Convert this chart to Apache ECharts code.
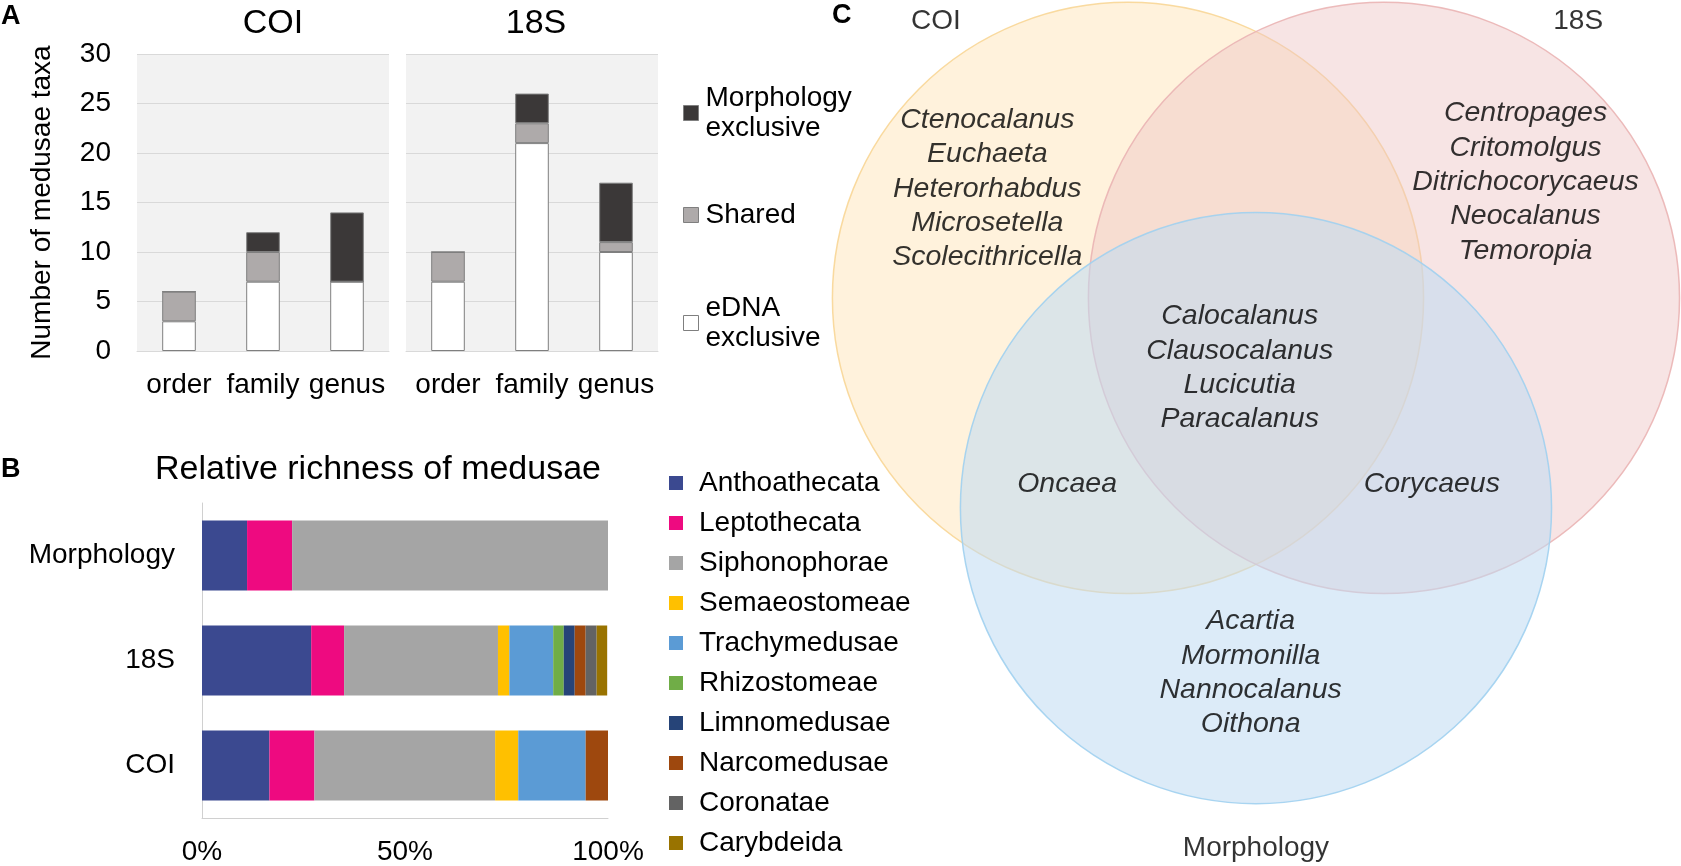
<!DOCTYPE html>
<html><head><meta charset="utf-8">
<script src="https://cdn.jsdelivr.net/npm/echarts@6/dist/echarts.min.js"></script>
<style>html,body{margin:0;padding:0;background:#fff}#c{width:1681px;height:866px}</style>
</head><body><div id="c"></div>
<script>
// ---------- Panel A data ----------
const levels = ['order', 'family', 'genus'];
const coiEdna = [3, 7, 7];
const coiShared = [3, 3, 0];
const coiMorph = [0, 2, 7];
const s18Edna = [7, 21, 10];
const s18Shared = [3, 2, 1];
const s18Morph = [0, 3, 6];
const countTickStep = 5;
const countMax = 30;
const groupNames = ['Morphology exclusive', 'Shared', 'eDNA exclusive'];

// ---------- Panel B data ----------
const methods = ['COI', '18S', 'Morphology'];
const orders = ['Anthoathecata', 'Leptothecata', 'Siphonophorae', 'Semaeostomeae', 'Trachymedusae',
  'Rhizostomeae', 'Limnomedusae', 'Narcomedusae', 'Coronatae', 'Carybdeida'];
const shareCOI = [16.6, 11.1, 44.5, 5.7, 16.6, 0, 0, 5.5, 0, 0];
const share18S = [26.9, 8.1, 37.9, 2.8, 10.8, 2.6, 2.7, 2.7, 2.7, 2.6];
const shareMorph = [11.1, 11.1, 77.8, 0, 0, 0, 0, 0, 0, 0];

// ---------- Panel C data ----------
const vennSetNames = ['COI', '18S', 'Morphology'];
const onlyCOI = ['Ctenocalanus', 'Euchaeta', 'Heterorhabdus', 'Microsetella', 'Scolecithricella'];
const only18S = ['Centropages', 'Critomolgus', 'Ditrichocorycaeus', 'Neocalanus', 'Temoropia'];
const allThree = ['Calocalanus', 'Clausocalanus', 'Lucicutia', 'Paracalanus'];
const coiMorphOnly = ['Oncaea'];
const s18MorphOnly = ['Corycaeus'];
const onlyMorph = ['Acartia', 'Mormonilla', 'Nannocalanus', 'Oithona'];

// ---------- layout / styles ----------
const FONT = '"Liberation Sans", Arial, Helvetica, sans-serif';
const orderColors = ['#3B4990', '#EE0A80', '#A5A5A5', '#FFC000', '#5B9BD5', '#70AD47', '#264478', '#9E480E', '#636363', '#997300'];
const groupColors = {'Morphology exclusive': '#3B3838', 'Shared': '#AEAAAA', 'eDNA exclusive': '#FFFFFF'};
// Venn geometry in circle-radius units (diagram layout)
const vennCircles = [[-0.433, 0.237, 1], [0.433, 0.237, 1], [0, -0.474, 1]];
const vennFill = ['rgba(255,229,185,0.5)', 'rgba(238,196,196,0.45)', 'rgba(191,219,242,0.55)'];
const vennStroke = ['rgba(248,214,150,0.9)', 'rgba(234,180,180,0.9)', 'rgba(160,208,240,0.9)'];
const vennSetAnchors = [[-1.083, 1.174], [1.090, 1.174], [0, -1.624]];
const vennRegionAnchors = [[-0.909, 0.606], [0.912, 0.629], [-0.055, 0], [-0.639, -0.393], [0.595, -0.393], [-0.018, -1.032]];
const vennRegionTexts = [onlyCOI, only18S, allThree, coiMorphOnly, s18MorphOnly, onlyMorph];

const chart = echarts.init(document.getElementById('c'), null, {renderer: 'canvas'});

function stackSeries(idx, edna, shared, morph) {
  const vals = {'eDNA exclusive': edna, 'Shared': shared, 'Morphology exclusive': morph};
  return ['eDNA exclusive', 'Shared', 'Morphology exclusive'].map(n => ({
    type: 'bar', name: n, stack: 'a' + idx, xAxisIndex: idx, yAxisIndex: idx,
    barWidth: '40%', data: vals[n], silent: true,
    itemStyle: {color: groupColors[n], borderColor: '#7F7F7F', borderWidth: 1}
  }));
}

const barB = orders.map((o, i) => ({
  type: 'bar', name: o, stack: 'b', xAxisIndex: 2, yAxisIndex: 2, barWidth: 70, silent: true,
  data: [shareCOI[i], share18S[i], shareMorph[i]],
  itemStyle: {color: orderColors[i]}
}));

const txt = {fontFamily: FONT, color: '#000'};

const option = {
  animation: false,
  backgroundColor: '#fff',
  textStyle: {fontFamily: FONT},
  grid: [
    {left: 137, top: 54, width: 252, height: 297, show: true, backgroundColor: '#F2F2F2', borderWidth: 0},
    {left: 406, top: 54, width: 252, height: 297, show: true, backgroundColor: '#F2F2F2', borderWidth: 0},
    {left: 202, top: 503, width: 406, height: 318},
    {left: 760, top: 0, width: 921, height: 866}
  ],
  xAxis: [
    {gridIndex: 0, type: 'category', data: levels, axisTick: {show: false},
      axisLine: {lineStyle: {color: '#D9D9D9'}}, axisLabel: {...txt, fontSize: 28, margin: 20, interval: 0}},
    {gridIndex: 1, type: 'category', data: levels, axisTick: {show: false},
      axisLine: {lineStyle: {color: '#D9D9D9'}}, axisLabel: {...txt, fontSize: 28, margin: 20, interval: 0}},
    {gridIndex: 2, type: 'value', min: 0, max: 100, interval: 50, splitLine: {show: false},
      axisLine: {show: true, lineStyle: {color: '#D0D0D0'}}, axisTick: {show: false},
      axisLabel: {...txt, fontSize: 28, margin: 20, formatter: '{value}%'}},
    {gridIndex: 3, type: 'value', min: -1.678, max: 1.438, show: false}
  ],
  yAxis: [
    {gridIndex: 0, type: 'value', min: 0, max: countMax, interval: countTickStep,
      splitLine: {lineStyle: {color: '#D9D9D9'}}, axisLine: {show: false}, axisTick: {show: false},
      axisLabel: {...txt, fontSize: 28, margin: 26},
      name: 'Number of medusae taxa', nameLocation: 'middle', nameGap: 81,
      nameTextStyle: {...txt, fontSize: 28}},
    {gridIndex: 1, type: 'value', min: 0, max: countMax, interval: countTickStep,
      splitLine: {lineStyle: {color: '#D9D9D9'}}, axisLine: {show: false}, axisTick: {show: false},
      axisLabel: {show: false}},
    {gridIndex: 2, type: 'category', data: methods, axisTick: {show: false},
      axisLine: {show: true, lineStyle: {color: '#D0D0D0'}},
      axisLabel: {...txt, fontSize: 28, margin: 27, interval: 0}},
    {gridIndex: 3, type: 'value', min: -1.685, max: 1.245, show: false}
  ],
  legend: [
    {data: [{name: groupNames[0], textStyle: {padding: [30, 0, 0, 2]}}], left: 683, top: 68, padding: 0,
      itemWidth: 15, itemHeight: 15, icon: 'rect', selectedMode: false,
      formatter: n => n.replace(' ', '\n'),
      itemStyle: {borderColor: '#7F7F7F', borderWidth: 1},
      textStyle: {...txt, fontSize: 28, lineHeight: 30}},
    {data: [{name: groupNames[1], textStyle: {padding: [0, 0, 0, 2]}}], left: 683, top: 200, padding: 0,
      itemWidth: 15, itemHeight: 15, icon: 'rect', selectedMode: false,
      itemStyle: {borderColor: '#7F7F7F', borderWidth: 1},
      textStyle: {...txt, fontSize: 28, lineHeight: 30}},
    {data: [{name: groupNames[2], textStyle: {padding: [30, 0, 0, 2]}}], left: 683, top: 278, padding: 0,
      itemWidth: 15, itemHeight: 15, icon: 'rect', selectedMode: false,
      formatter: n => n.replace(' ', '\n'),
      itemStyle: {borderColor: '#7F7F7F', borderWidth: 1},
      textStyle: {...txt, fontSize: 28, lineHeight: 30}},
    {data: orders.map(o => ({name: o, textStyle: {padding: [0, 0, 0, 11]}})), orient: 'vertical',
      left: 669, top: 468, padding: 0, itemWidth: 14, itemHeight: 14, itemGap: 10, icon: 'rect',
      selectedMode: false, textStyle: {...txt, fontSize: 28, lineHeight: 30}}
  ],
  graphic: [
    {type: 'text', left: 1, top: 3, style: {text: 'A', font: 'bold 27px ' + FONT, fill: '#000'}},
    {type: 'text', left: 1, top: 456, style: {text: 'B', font: 'bold 27px ' + FONT, fill: '#000'}},
    {type: 'text', left: 832, top: 2, style: {text: 'C', font: 'bold 27px ' + FONT, fill: '#000'}},
    {type: 'text', x: 273, y: 24, style: {text: 'COI', font: '34px ' + FONT, fill: '#000', align: 'center', verticalAlign: 'middle'}},
    {type: 'text', x: 536, y: 24, style: {text: '18S', font: '34px ' + FONT, fill: '#000', align: 'center', verticalAlign: 'middle'}},
    {type: 'text', x: 378, y: 470, style: {text: 'Relative richness of medusae', font: '34px ' + FONT, fill: '#000', align: 'center', verticalAlign: 'middle'}}
  ],
  series: [
    ...stackSeries(0, coiEdna, coiShared, coiMorph),
    ...stackSeries(1, s18Edna, s18Shared, s18Morph),
    ...barB,
    {
      type: 'custom', name: 'venn', xAxisIndex: 3, yAxisIndex: 3, silent: true,
      data: vennCircles,
      renderItem: (params, api) => {
        const c = api.coord([api.value(0), api.value(1)]);
        const r = api.size([api.value(2), 0])[0];
        const i = params.dataIndex;
        return {type: 'circle', shape: {cx: c[0], cy: c[1], r: r},
          style: {fill: vennFill[i], stroke: vennStroke[i], lineWidth: 1.5}};
      }
    },
    {
      type: 'scatter', xAxisIndex: 3, yAxisIndex: 3, silent: true, symbolSize: 1,
      itemStyle: {color: 'rgba(0,0,0,0)'},
      data: vennRegionAnchors.map((p, i) => ({value: p, name: vennRegionTexts[i].join('\n')})),
      label: {show: true, position: 'inside', formatter: p => p.name, ...txt, fontSize: 28.5,
        fontStyle: 'italic', lineHeight: 34.3, align: 'center', verticalAlign: 'middle'}
    },
    {
      type: 'scatter', xAxisIndex: 3, yAxisIndex: 3, silent: true, symbolSize: 1,
      itemStyle: {color: 'rgba(0,0,0,0)'},
      data: vennSetAnchors.map((p, i) => ({value: p, name: vennSetNames[i]})),
      label: {show: true, position: 'inside', formatter: p => p.name, ...txt, fontSize: 28,
        align: 'center', verticalAlign: 'middle'}
    }
  ]
};
chart.setOption(option);
</script>
</body></html>
